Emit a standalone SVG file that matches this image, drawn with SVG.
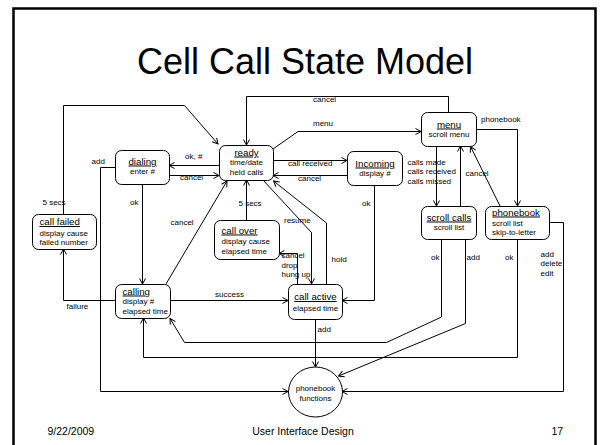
<svg xmlns="http://www.w3.org/2000/svg" width="602" height="445" viewBox="0 0 602 445">
<style>
text{font-family:"Liberation Sans",Arial,sans-serif;fill:#000}
.t{font-size:9.7px;text-decoration:underline}
.b{font-size:8px}
.l{font-size:8px}
.c{text-anchor:middle}
.box{fill:#fff;stroke:#000;stroke-width:1}
.cn path{fill:none;stroke:#000;stroke-width:1}
.ft{font-size:10.5px}
</style>
<defs>
<marker id="a" markerWidth="8" markerHeight="8" refX="7" refY="4" orient="auto" markerUnits="userSpaceOnUse">
<path d="M1.5,1 L7,4 L1.5,7" fill="none" stroke="#000" stroke-width="1"/>
</marker>
</defs>
<rect x="0" y="0" width="602" height="445" fill="#fff"/>
<rect x="13.5" y="8.5" width="582" height="450" fill="none" stroke="#000" stroke-width="2.5"/>
<text x="305" y="74" font-size="36" class="c">Cell Call State Model</text>

<g class="cn" id="connectors">
<path d="M448.5,112 V96.5 H246.5 V145" marker-end="url(#a)"/>
<path d="M273,149 L298,131.5 H421" marker-end="url(#a)"/>
<path d="M273,160.5 H347" marker-end="url(#a)"/>
<path d="M347,175.5 H273" marker-end="url(#a)"/>
<path d="M219,165.5 H169" marker-end="url(#a)"/>
<path d="M169,175.5 H219" marker-end="url(#a)"/>
<path d="M63.5,214 V105.5 H184.5 L218,144" marker-end="url(#a)"/>
<path d="M115,167.5 H100.5 V391.5 H288" marker-end="url(#a)"/>
<path d="M142.5,184 V284" marker-end="url(#a)"/>
<path d="M166,284 L227,181" marker-end="url(#a)"/>
<path d="M115,300.5 H63.5 V249" marker-end="url(#a)"/>
<path d="M170,300.5 H288" marker-end="url(#a)"/>
<path d="M246.5,220 V180" marker-end="url(#a)"/>
<path d="M263,180 L311.5,232.5 V284" marker-end="url(#a)"/>
<path d="M326.5,284 V223 L273.5,181" marker-end="url(#a)"/>
<path d="M297.5,284 V253.5 H279" marker-end="url(#a)"/>
<path d="M374.5,185 V300.5 H342" marker-end="url(#a)"/>
<path d="M315.5,319 V367" marker-end="url(#a)"/>
<path d="M436.5,146 V206" marker-end="url(#a)"/>
<path d="M460.5,206 V146" marker-end="url(#a)"/>
<path d="M500,206 L470.5,146.5" marker-end="url(#a)"/>
<path d="M476,129.5 H517.5 V206" marker-end="url(#a)"/>
<path d="M441.5,239 V317 L386.5,342.5 H184.5 L170,318.5" marker-end="url(#a)"/>
<path d="M465.5,239 V323.5 L338.5,376" marker-end="url(#a)"/>
<path d="M517.5,239 V357.5 H143.5 V318" marker-end="url(#a)"/>
<path d="M549,222.5 H563.5 V391.5 H342" marker-end="url(#a)"/>
</g>

<g id="labels">
<text class="l" x="313" y="102">cancel</text>
<text class="l" x="313" y="126">menu</text>
<text class="l" x="288" y="166">call received</text>
<text class="l" x="298" y="180.5">cancel</text>
<text class="l" x="185" y="159">ok, #</text>
<text class="l" x="180" y="180">cancel</text>
<text class="l" x="42.5" y="205">5 secs</text>
<text class="l" x="91.5" y="164">add</text>
<text class="l" x="130" y="205">ok</text>
<text class="l" x="170.5" y="224.5">cancel</text>
<text class="l" x="66.5" y="308.5">failure</text>
<text class="l" x="215" y="297">success</text>
<text class="l" x="238.5" y="205.5">5 secs</text>
<text class="l" x="284" y="223">resume</text>
<text class="l" x="331.5" y="262">hold</text>
<text class="l" x="281.5" y="258">cancel</text>
<text class="l" x="281.5" y="267.5">drop</text>
<text class="l" x="281.5" y="277">hung up</text>
<text class="l" x="362" y="206">ok</text>
<text class="l" x="317.5" y="332">add</text>
<text class="l" x="407.5" y="165">calls made</text>
<text class="l" x="407.5" y="174">calls received</text>
<text class="l" x="407.5" y="183.5">calls missed</text>
<text class="l" x="465.5" y="176">cancel</text>
<text class="l" x="481" y="122">phonebook</text>
<text class="l" x="431" y="259.5">ok</text>
<text class="l" x="466.5" y="259.5">add</text>
<text class="l" x="505" y="259.5">ok</text>
<text class="l" x="540.5" y="256.5">add</text>
<text class="l" x="540.5" y="266">delete</text>
<text class="l" x="540.5" y="276">edit</text>
</g>

<g id="ready">
<rect class="box" x="219.5" y="145.5" width="54" height="35" rx="6"/>
<text class="t c" x="246.5" y="155.5">ready</text>
<text class="b c" x="246.5" y="165">time/date</text>
<text class="b c" x="246.5" y="174.5">held calls</text>
</g>
<g id="incoming">
<rect class="box" x="347.5" y="151.5" width="55" height="34" rx="6"/>
<text class="t c" x="375" y="166.5">Incoming</text>
<text class="b c" x="375" y="176">display #</text>
</g>
<g id="menu">
<rect class="box" x="421.5" y="112.5" width="55" height="34" rx="6"/>
<text class="t c" x="449" y="127.5">menu</text>
<text class="b c" x="449" y="136.5">scroll menu</text>
</g>
<g id="scroll-calls">
<rect class="box" x="421.5" y="206.5" width="55" height="33" rx="6"/>
<text class="t c" x="449" y="220.5">scroll calls</text>
<text class="b c" x="449" y="230">scroll list</text>
</g>
<g id="phonebook">
<rect class="box" x="485.5" y="206.5" width="64" height="33" rx="6"/>
<text class="t" x="492" y="215.5">phonebook</text>
<text class="b" x="492" y="225.5">scroll list</text>
<text class="b" x="492" y="235">skip-to-letter</text>
</g>
<g id="dialing">
<rect class="box" x="115.5" y="150.5" width="54" height="34" rx="6"/>
<text class="t c" x="142.5" y="164.5">dialing</text>
<text class="b c" x="142.5" y="174">enter #</text>
</g>
<g id="call-failed">
<rect class="box" x="32.5" y="214.5" width="64" height="35" rx="6"/>
<text class="t" x="39.5" y="225">call failed</text>
<text class="b" x="39.5" y="235.5">display cause</text>
<text class="b" x="39.5" y="245">failed number</text>
</g>
<g id="calling">
<rect class="box" x="115.5" y="284.5" width="55" height="34" rx="6"/>
<text class="t" x="122.5" y="294.5">calling</text>
<text class="b" x="122.5" y="304">display #</text>
<text class="b" x="122.5" y="314">elapsed time</text>
</g>
<g id="call-over">
<rect class="box" x="214.5" y="220.5" width="65" height="39" rx="6"/>
<text class="t" x="221.5" y="233.5">call over</text>
<text class="b" x="221.5" y="244">display cause</text>
<text class="b" x="221.5" y="253.5">elapsed time</text>
</g>
<g id="call-active">
<rect class="box" x="288.5" y="284.5" width="54" height="35" rx="6"/>
<text class="t c" x="315.5" y="300">call active</text>
<text class="b c" x="315.5" y="310.5">elapsed time</text>
</g>
<g id="phonebook-functions">
<ellipse class="box" cx="315.5" cy="392" rx="27" ry="25"/>
<text class="b c" x="315.5" y="391">phonebook</text>
<text class="b c" x="315.5" y="401">functions</text>
</g>

<g id="footer">
<text class="ft" x="47.5" y="435">9/22/2009</text>
<text class="ft c" x="303" y="435">User Interface Design</text>
<text class="ft" x="551.5" y="435">17</text>
</g>
</svg>
